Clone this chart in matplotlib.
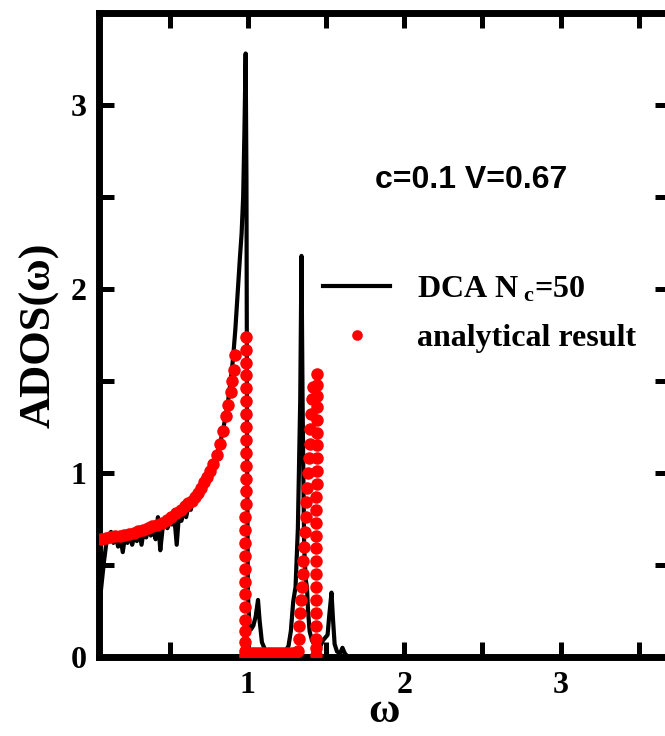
import matplotlib
matplotlib.use("Agg")
import matplotlib.pyplot as plt
from matplotlib.ticker import NullFormatter, FixedLocator

plt.rcParams['font.family'] = ['Liberation Serif', 'DejaVu Serif']
plt.rcParams['font.weight'] = 'bold'
plt.rcParams['mathtext.fontset'] = 'custom'
plt.rcParams['mathtext.rm'] = 'Liberation Serif:bold'
plt.rcParams['mathtext.it'] = 'Liberation Serif:bold'
plt.rcParams['mathtext.bf'] = 'Liberation Serif:bold'

# ---- DCA Nc=50 curve (black line) ----
dca_x = [0.05, 0.065, 0.08, 0.095, 0.11, 0.125, 0.14, 0.155, 0.17, 0.185, 0.20, 0.215,
         0.23, 0.245, 0.26, 0.275, 0.29, 0.305, 0.32, 0.335, 0.35, 0.365, 0.38, 0.395,
         0.41, 0.425, 0.44, 0.455, 0.47, 0.485, 0.50, 0.515, 0.53, 0.545, 0.56, 0.575,
         0.59, 0.605, 0.62, 0.635, 0.65, 0.665, 0.68, 0.695, 0.71, 0.725, 0.74, 0.755,
         0.77, 0.785, 0.80, 0.815, 0.83, 0.845, 0.86, 0.875, 0.89, 0.905, 0.92, 0.935,
         0.95, 0.96, 0.97, 0.978, 0.986, 0.991, 0.995, 1.00, 1.01, 1.02, 1.035, 1.05,
         1.065, 1.075, 1.09, 1.11, 1.15, 1.20, 1.24, 1.26, 1.275, 1.29, 1.305, 1.32,
         1.335, 1.343, 1.35, 1.36, 1.37, 1.378, 1.385, 1.395, 1.41, 1.43, 1.46, 1.48,
         1.50, 1.51, 1.52, 1.535, 1.545, 1.555, 1.57, 1.59, 1.605, 1.62, 1.64, 1.70,
         2.00, 3.70]
dca_y = [0.28, 0.40, 0.52, 0.62, 0.66, 0.68, 0.62, 0.66, 0.60, 0.65, 0.57, 0.66,
         0.62, 0.68, 0.61, 0.66, 0.63, 0.70, 0.61, 0.69, 0.65, 0.72, 0.66, 0.70,
         0.64, 0.76, 0.58, 0.70, 0.75, 0.70, 0.73, 0.72, 0.76, 0.61, 0.78, 0.74,
         0.80, 0.76, 0.82, 0.80, 0.86, 0.84, 0.90, 0.89, 0.94, 0.95, 0.98, 1.00,
         1.03, 1.05, 1.10, 1.14, 1.19, 1.25, 1.32, 1.40, 1.50, 1.62, 1.78, 1.98,
         2.18, 2.30, 2.50, 2.85, 3.28, 2.60, 1.20, 0.35, 0.17, 0.15, 0.17, 0.22,
         0.31, 0.20, 0.08, 0.04, 0.02, 0.02, 0.03, 0.06, 0.14, 0.30, 0.38, 0.70,
         1.40, 2.18, 1.40, 0.60, 0.42, 0.38, 0.25, 0.14, 0.09, 0.06, 0.05, 0.09,
         0.11, 0.12, 0.22, 0.35, 0.20, 0.07, 0.03, 0.02, 0.05, 0.02, 0.00, 0.00,
         0.00, 0.00]

# ---- analytical result (red dots) ----
ana_x = [0.03, 0.06, 0.09, 0.12, 0.15, 0.18, 0.21, 0.24, 0.27, 0.30, 0.33, 0.36, 0.39,
         0.42, 0.45, 0.48, 0.51, 0.54, 0.57, 0.60, 0.62, 0.64, 0.66, 0.68, 0.70, 0.72,
         0.74, 0.76, 0.78, 0.80, 0.82, 0.84, 0.86, 0.875, 0.89, 0.90, 0.91, 0.92,
         # first band edge column
         0.990, 0.990, 0.989, 0.989, 0.988, 0.988, 0.987, 0.987, 0.986, 0.986, 0.986,
         0.985, 0.985, 0.985, 0.984, 0.984, 0.984, 0.983, 0.983, 0.983, 0.982, 0.982,
         0.982, 0.981, 0.981, 0.981, 0.980, 0.980,
         # gap
         1.00, 1.02, 1.04, 1.06, 1.08, 1.10, 1.12, 1.14, 1.16, 1.18, 1.20, 1.22, 1.24,
         1.26, 1.28, 1.30,
         # second band, rising branch
         1.320, 1.325, 1.330, 1.335, 1.340, 1.345, 1.350, 1.355, 1.360, 1.365, 1.370,
         1.375, 1.380, 1.385, 1.390, 1.395, 1.400, 1.405, 1.410, 1.415,
         # second band edge column
         1.440, 1.442, 1.443, 1.443, 1.442, 1.441, 1.441, 1.440, 1.440, 1.440, 1.439,
         1.439, 1.438, 1.438, 1.438, 1.437, 1.437, 1.437, 1.437, 1.437, 1.437, 1.437,
         1.437, 1.437]
ana_y = [0.64, 0.64, 0.645, 0.65, 0.655, 0.66, 0.665, 0.67, 0.675, 0.685, 0.69, 0.70, 0.71,
         0.72, 0.73, 0.745, 0.76, 0.78, 0.80, 0.82, 0.835, 0.85, 0.87, 0.89, 0.92, 0.95,
         0.98, 1.01, 1.05, 1.10, 1.16, 1.23, 1.31, 1.37, 1.44, 1.50, 1.56, 1.64,
         1.74, 1.67, 1.60, 1.53, 1.46, 1.39, 1.32, 1.25, 1.18, 1.11, 1.04,
         0.97, 0.90, 0.83, 0.76, 0.69, 0.62, 0.55, 0.48, 0.41, 0.34, 0.27,
         0.20, 0.14, 0.08, 0.03, 0.01, 0.00,
         0.02, 0.02, 0.02, 0.02, 0.02, 0.02, 0.02, 0.02, 0.02, 0.02, 0.02, 0.02, 0.02,
         0.02, 0.02, 0.02,
         0.03, 0.10, 0.17, 0.24, 0.31, 0.38, 0.45, 0.52, 0.60, 0.68, 0.76,
         0.84, 0.92, 1.00, 1.08, 1.16, 1.24, 1.32, 1.40, 1.47,
         1.54, 1.48, 1.42, 1.36, 1.29, 1.22, 1.15, 1.08, 1.01, 0.94, 0.87,
         0.80, 0.73, 0.66, 0.59, 0.52, 0.45, 0.38, 0.31, 0.24, 0.17, 0.10,
         0.05, 0.01]

x_major = [1, 2, 3]
x_minor = [0.5, 1.5, 2.5, 3.5]
y_major = [0, 1, 2, 3]
y_minor = [0.5, 1.5, 2.5]

fig = plt.figure(figsize=(6.65, 7.36), dpi=100)
ax = fig.add_axes([99/665, 79/736, 571/665, 644/736])

ax.plot(dca_x, dca_y, color='black', lw=3.0, zorder=2, label=r'DCA N$_{\ \mathrm{c}}$=50')
ax.plot(ana_x, ana_y, 'o', color='#ff0000', ms=9, mec='none', zorder=3,
        label='analytical result')

ax.set_xlim(0.048, 3.70)
ax.set_ylim(0, 3.5)

ax.xaxis.set_major_locator(FixedLocator(x_major))
ax.xaxis.set_minor_locator(FixedLocator(x_minor))
ax.yaxis.set_major_locator(FixedLocator(y_major))
ax.yaxis.set_minor_locator(FixedLocator(y_minor))
ax.xaxis.set_minor_formatter(NullFormatter())
ax.yaxis.set_minor_formatter(NullFormatter())

for s in ax.spines.values():
    s.set_linewidth(5)
ax.tick_params(which='both', direction='in', length=11, width=3.6,
               top=True, right=True, labelsize=23)
ax.tick_params(axis='x', which='major', pad=10)
ax.tick_params(axis='y', which='major', pad=9)
for lab in ax.get_xticklabels() + ax.get_yticklabels():
    lab.set_fontweight('bold')

ax.set_xlabel('ω', fontsize=31, fontweight='bold', labelpad=-5)
ax.set_ylabel('ADOS(ω)', fontsize=32, fontweight='bold', labelpad=8)

fig.text(375/665, 1 - 180/736, 'c=0.1 V=0.67', fontsize=23, fontweight='bold',
         family=['Liberation Sans', 'DejaVu Sans'], va='center', ha='left')

leg = ax.legend(loc='upper left', bbox_to_anchor=(323/665, 1 - 275/736),
                bbox_transform=fig.transFigure, frameon=False, fontsize=23,
                handlelength=2.1, handletextpad=0.85, labelspacing=0.6,
                borderpad=0, borderaxespad=0, markerscale=0.85, numpoints=1)
for t in leg.get_texts():
    t.set_fontweight('bold')

fig.savefig('out.png', dpi=100)
